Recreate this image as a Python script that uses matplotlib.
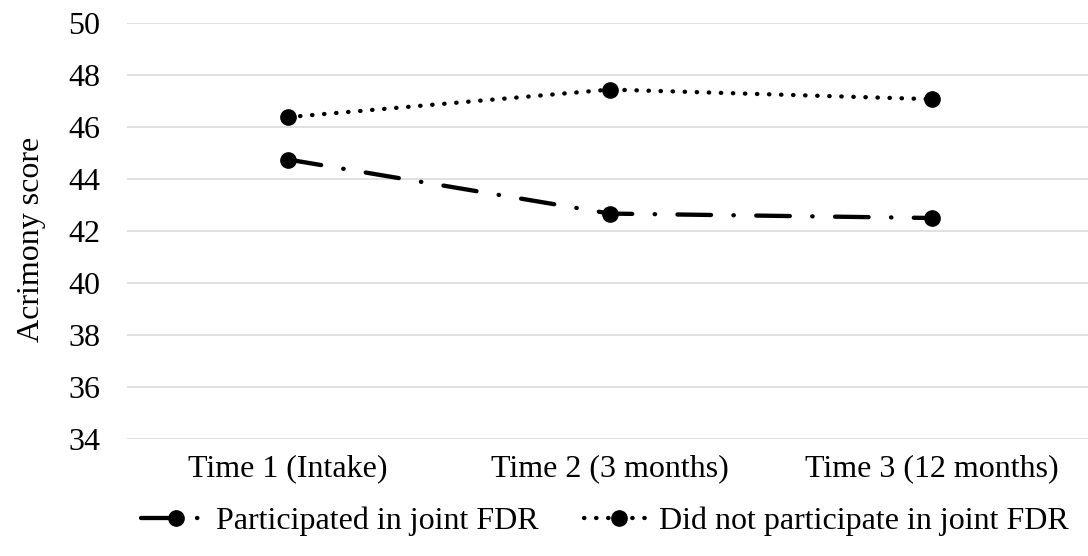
import matplotlib
matplotlib.use('Agg')
import matplotlib.pyplot as plt

plt.rcParams['font.family'] = ['Liberation Serif', 'DejaVu Serif']

categories = ['Time 1 (Intake)', 'Time 2 (3 months)', 'Time 3 (12 months)']
participated = [44.75, 42.67, 42.50]
not_participated = [46.38, 47.44, 47.07]
series_names = ['Participated in joint FDR', 'Did not participate in joint FDR']
y_ticks = list(range(34, 51, 2))

W, H = 1088, 556
fig = plt.figure(figsize=(W / 100, H / 100), dpi=100)
ax = fig.add_axes([127 / W, 1 - 439 / H, 966 / W, 416 / H])

lw = 3.1   # ~4.3 px
fs = 23
x = range(len(categories))

l1, = ax.plot(x, participated, color='black', lw=lw, dashes=(7.8, 5.2, 0.1, 5.2),
              dash_capstyle='round', marker='o', markersize=11, zorder=3)
l2, = ax.plot(x, not_participated, color='black', lw=lw, dashes=(0.1, 2.7),
              dash_capstyle='round', marker='o', markersize=11, zorder=3)

ax.set_xlim(-0.5, 2.5)
ax.set_ylim(34, 50)
ax.set_yticks(y_ticks)
ax.set_xticks(list(x))
ax.set_xticklabels(categories, fontsize=fs)
ax.tick_params(axis='y', labelsize=fs, length=0, pad=19)
ax.tick_params(axis='x', length=0, pad=11)
ax.grid(axis='y', color='#d9d9d9', lw=1.1)
ax.set_axisbelow(True)
for s in ax.spines.values():
    s.set_visible(False)
ax.set_ylabel('Acrimony score', fontsize=fs)
ax.yaxis.set_label_coords(-0.084, 0.48)

fig.legend([l1, l2], series_names, loc='center', bbox_to_anchor=(0.556, 1 - 521 / H),
           ncol=2, frameon=False, fontsize=fs, handlelength=2.2, handletextpad=0.15,
           columnspacing=1.4, borderaxespad=0, borderpad=0)

fig.savefig('out.png', dpi=100)
